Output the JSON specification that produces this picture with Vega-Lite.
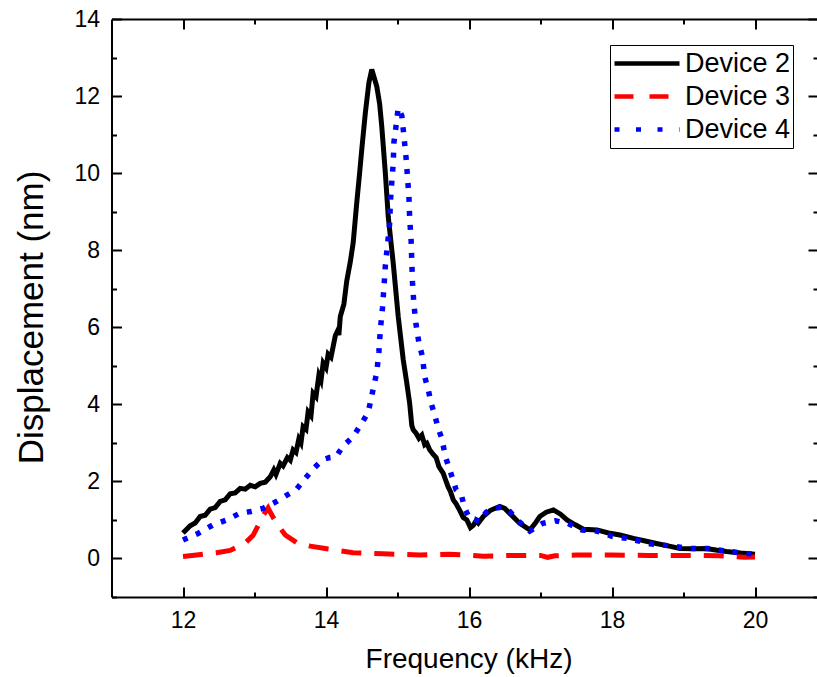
{
  "$schema": "https://vega.github.io/schema/vega-lite/v6.json",
  "width": 705.5,
  "height": 578,
  "autosize": {"type": "none"},
  "padding": {"left": 111.5, "top": 19, "right": 0, "bottom": 80},
  "background": "white",
  "config": {
    "view": {"stroke": null},
    "axis": {
      "grid": false,
      "domainColor": "black",
      "domainWidth": 2,
      "tickColor": "black",
      "tickWidth": 2,
      "labelColor": "black",
      "titleColor": "black",
      "labelFont": "Liberation Sans",
      "titleFont": "Liberation Sans",
      "titleFontWeight": "normal",
      "labelFontSize": 23
    },
    "legend": {"labelFont": "Liberation Sans"}
  },
  "data": {
    "values": [
      {"series": "Device 2", "f": 12.00, "d": 0.66},
      {"series": "Device 2", "f": 12.10, "d": 0.85},
      {"series": "Device 2", "f": 12.17, "d": 0.92},
      {"series": "Device 2", "f": 12.24, "d": 1.09},
      {"series": "Device 2", "f": 12.31, "d": 1.12},
      {"series": "Device 2", "f": 12.38, "d": 1.28},
      {"series": "Device 2", "f": 12.45, "d": 1.32},
      {"series": "Device 2", "f": 12.52, "d": 1.48},
      {"series": "Device 2", "f": 12.59, "d": 1.52},
      {"series": "Device 2", "f": 12.66, "d": 1.68},
      {"series": "Device 2", "f": 12.73, "d": 1.70},
      {"series": "Device 2", "f": 12.80, "d": 1.82},
      {"series": "Device 2", "f": 12.87, "d": 1.80},
      {"series": "Device 2", "f": 12.94, "d": 1.90},
      {"series": "Device 2", "f": 13.01, "d": 1.86},
      {"series": "Device 2", "f": 13.08, "d": 1.95},
      {"series": "Device 2", "f": 13.15, "d": 1.98},
      {"series": "Device 2", "f": 13.22, "d": 2.12},
      {"series": "Device 2", "f": 13.27, "d": 2.30},
      {"series": "Device 2", "f": 13.30, "d": 2.18},
      {"series": "Device 2", "f": 13.36, "d": 2.47},
      {"series": "Device 2", "f": 13.40, "d": 2.40},
      {"series": "Device 2", "f": 13.46, "d": 2.62},
      {"series": "Device 2", "f": 13.50, "d": 2.55},
      {"series": "Device 2", "f": 13.54, "d": 2.82},
      {"series": "Device 2", "f": 13.58, "d": 2.75},
      {"series": "Device 2", "f": 13.62, "d": 3.10},
      {"series": "Device 2", "f": 13.65, "d": 3.00},
      {"series": "Device 2", "f": 13.68, "d": 3.42},
      {"series": "Device 2", "f": 13.72, "d": 3.35},
      {"series": "Device 2", "f": 13.75, "d": 3.80},
      {"series": "Device 2", "f": 13.79, "d": 3.70},
      {"series": "Device 2", "f": 13.82, "d": 4.29},
      {"series": "Device 2", "f": 13.86, "d": 4.20},
      {"series": "Device 2", "f": 13.90, "d": 4.75},
      {"series": "Device 2", "f": 13.93, "d": 4.62},
      {"series": "Device 2", "f": 13.96, "d": 5.07},
      {"series": "Device 2", "f": 14.00, "d": 4.95},
      {"series": "Device 2", "f": 14.03, "d": 5.30},
      {"series": "Device 2", "f": 14.07, "d": 5.22},
      {"series": "Device 2", "f": 14.10, "d": 5.50},
      {"series": "Device 2", "f": 14.13, "d": 5.78},
      {"series": "Device 2", "f": 14.16, "d": 5.90},
      {"series": "Device 2", "f": 14.18, "d": 5.80},
      {"series": "Device 2", "f": 14.20, "d": 6.28},
      {"series": "Device 2", "f": 14.25, "d": 6.60},
      {"series": "Device 2", "f": 14.29, "d": 7.20},
      {"series": "Device 2", "f": 14.34, "d": 7.70},
      {"series": "Device 2", "f": 14.38, "d": 8.19},
      {"series": "Device 2", "f": 14.43, "d": 9.23},
      {"series": "Device 2", "f": 14.47, "d": 10.00},
      {"series": "Device 2", "f": 14.50, "d": 10.61},
      {"series": "Device 2", "f": 14.55, "d": 11.56},
      {"series": "Device 2", "f": 14.60, "d": 12.35},
      {"series": "Device 2", "f": 14.64, "d": 12.69},
      {"series": "Device 2", "f": 14.67, "d": 12.50},
      {"series": "Device 2", "f": 14.71, "d": 12.25},
      {"series": "Device 2", "f": 14.75, "d": 11.80},
      {"series": "Device 2", "f": 14.78, "d": 11.21},
      {"series": "Device 2", "f": 14.83, "d": 10.00},
      {"series": "Device 2", "f": 14.87, "d": 8.88},
      {"series": "Device 2", "f": 14.94, "d": 7.67},
      {"series": "Device 2", "f": 15.01, "d": 6.28},
      {"series": "Device 2", "f": 15.08, "d": 5.16},
      {"series": "Device 2", "f": 15.13, "d": 4.55},
      {"series": "Device 2", "f": 15.17, "d": 4.03},
      {"series": "Device 2", "f": 15.20, "d": 3.45},
      {"series": "Device 2", "f": 15.22, "d": 3.34},
      {"series": "Device 2", "f": 15.26, "d": 3.25},
      {"series": "Device 2", "f": 15.30, "d": 3.12},
      {"series": "Device 2", "f": 15.34, "d": 3.20},
      {"series": "Device 2", "f": 15.38, "d": 2.95},
      {"series": "Device 2", "f": 15.41, "d": 2.99},
      {"series": "Device 2", "f": 15.45, "d": 2.82},
      {"series": "Device 2", "f": 15.50, "d": 2.70},
      {"series": "Device 2", "f": 15.54, "d": 2.62},
      {"series": "Device 2", "f": 15.58, "d": 2.38},
      {"series": "Device 2", "f": 15.64, "d": 2.21},
      {"series": "Device 2", "f": 15.67, "d": 2.05},
      {"series": "Device 2", "f": 15.71, "d": 1.85},
      {"series": "Device 2", "f": 15.74, "d": 1.74},
      {"series": "Device 2", "f": 15.78, "d": 1.52},
      {"series": "Device 2", "f": 15.82, "d": 1.42},
      {"series": "Device 2", "f": 15.87, "d": 1.25},
      {"series": "Device 2", "f": 15.92, "d": 1.06},
      {"series": "Device 2", "f": 15.97, "d": 1.00},
      {"series": "Device 2", "f": 16.02, "d": 0.80},
      {"series": "Device 2", "f": 16.06, "d": 0.86},
      {"series": "Device 2", "f": 16.10, "d": 0.98},
      {"series": "Device 2", "f": 16.13, "d": 0.92},
      {"series": "Device 2", "f": 16.20, "d": 1.09},
      {"series": "Device 2", "f": 16.30, "d": 1.25},
      {"series": "Device 2", "f": 16.43, "d": 1.35},
      {"series": "Device 2", "f": 16.50, "d": 1.30},
      {"series": "Device 2", "f": 16.57, "d": 1.17},
      {"series": "Device 2", "f": 16.71, "d": 0.91},
      {"series": "Device 2", "f": 16.85, "d": 0.74},
      {"series": "Device 2", "f": 16.92, "d": 0.90},
      {"series": "Device 2", "f": 16.99, "d": 1.09},
      {"series": "Device 2", "f": 17.08, "d": 1.20},
      {"series": "Device 2", "f": 17.18, "d": 1.26},
      {"series": "Device 2", "f": 17.28, "d": 1.15},
      {"series": "Device 2", "f": 17.37, "d": 1.00},
      {"series": "Device 2", "f": 17.48, "d": 0.88},
      {"series": "Device 2", "f": 17.60, "d": 0.76},
      {"series": "Device 2", "f": 17.79, "d": 0.74},
      {"series": "Device 2", "f": 17.95, "d": 0.66},
      {"series": "Device 2", "f": 18.11, "d": 0.61},
      {"series": "Device 2", "f": 18.30, "d": 0.52},
      {"series": "Device 2", "f": 18.45, "d": 0.46},
      {"series": "Device 2", "f": 18.62, "d": 0.39},
      {"series": "Device 2", "f": 18.80, "d": 0.32},
      {"series": "Device 2", "f": 18.95, "d": 0.26},
      {"series": "Device 2", "f": 19.15, "d": 0.25},
      {"series": "Device 2", "f": 19.32, "d": 0.26},
      {"series": "Device 2", "f": 19.45, "d": 0.22},
      {"series": "Device 2", "f": 19.60, "d": 0.18},
      {"series": "Device 2", "f": 19.80, "d": 0.14},
      {"series": "Device 2", "f": 20.00, "d": 0.11},

      {"series": "Device 3", "f": 12.00, "d": 0.05},
      {"series": "Device 3", "f": 12.19, "d": 0.09},
      {"series": "Device 3", "f": 12.47, "d": 0.15},
      {"series": "Device 3", "f": 12.66, "d": 0.21},
      {"series": "Device 3", "f": 12.87, "d": 0.40},
      {"series": "Device 3", "f": 12.98, "d": 0.60},
      {"series": "Device 3", "f": 13.05, "d": 0.85},
      {"series": "Device 3", "f": 13.10, "d": 1.06},
      {"series": "Device 3", "f": 13.19, "d": 1.31},
      {"series": "Device 3", "f": 13.25, "d": 1.10},
      {"series": "Device 3", "f": 13.31, "d": 0.91},
      {"series": "Device 3", "f": 13.43, "d": 0.61},
      {"series": "Device 3", "f": 13.59, "d": 0.41},
      {"series": "Device 3", "f": 13.78, "d": 0.32},
      {"series": "Device 3", "f": 14.01, "d": 0.25},
      {"series": "Device 3", "f": 14.38, "d": 0.15},
      {"series": "Device 3", "f": 14.80, "d": 0.12},
      {"series": "Device 3", "f": 15.31, "d": 0.09},
      {"series": "Device 3", "f": 15.73, "d": 0.11},
      {"series": "Device 3", "f": 16.20, "d": 0.06},
      {"series": "Device 3", "f": 16.60, "d": 0.08},
      {"series": "Device 3", "f": 17.00, "d": 0.08},
      {"series": "Device 3", "f": 17.10, "d": 0.03},
      {"series": "Device 3", "f": 17.20, "d": 0.07},
      {"series": "Device 3", "f": 17.50, "d": 0.09},
      {"series": "Device 3", "f": 18.00, "d": 0.09},
      {"series": "Device 3", "f": 18.50, "d": 0.08},
      {"series": "Device 3", "f": 19.00, "d": 0.08},
      {"series": "Device 3", "f": 19.50, "d": 0.07},
      {"series": "Device 3", "f": 19.85, "d": 0.03},
      {"series": "Device 3", "f": 20.00, "d": 0.04},

      {"series": "Device 4", "f": 12.00, "d": 0.48},
      {"series": "Device 4", "f": 12.21, "d": 0.65},
      {"series": "Device 4", "f": 12.42, "d": 0.87},
      {"series": "Device 4", "f": 12.61, "d": 1.00},
      {"series": "Device 4", "f": 12.79, "d": 1.17},
      {"series": "Device 4", "f": 12.95, "d": 1.22},
      {"series": "Device 4", "f": 13.12, "d": 1.30},
      {"series": "Device 4", "f": 13.29, "d": 1.46},
      {"series": "Device 4", "f": 13.43, "d": 1.62},
      {"series": "Device 4", "f": 13.58, "d": 1.78},
      {"series": "Device 4", "f": 13.71, "d": 2.08},
      {"series": "Device 4", "f": 13.84, "d": 2.36},
      {"series": "Device 4", "f": 13.95, "d": 2.56},
      {"series": "Device 4", "f": 14.05, "d": 2.62},
      {"series": "Device 4", "f": 14.14, "d": 2.64},
      {"series": "Device 4", "f": 14.24, "d": 2.92},
      {"series": "Device 4", "f": 14.38, "d": 3.16},
      {"series": "Device 4", "f": 14.51, "d": 3.54},
      {"series": "Device 4", "f": 14.59, "d": 3.79},
      {"series": "Device 4", "f": 14.65, "d": 4.31},
      {"series": "Device 4", "f": 14.71, "d": 4.83},
      {"series": "Device 4", "f": 14.74, "d": 5.37},
      {"series": "Device 4", "f": 14.76, "d": 5.94},
      {"series": "Device 4", "f": 14.79, "d": 6.50},
      {"series": "Device 4", "f": 14.81, "d": 7.03},
      {"series": "Device 4", "f": 14.83, "d": 7.60},
      {"series": "Device 4", "f": 14.86, "d": 8.14},
      {"series": "Device 4", "f": 14.89, "d": 8.69},
      {"series": "Device 4", "f": 14.90, "d": 9.23},
      {"series": "Device 4", "f": 14.92, "d": 9.77},
      {"series": "Device 4", "f": 14.94, "d": 10.24},
      {"series": "Device 4", "f": 14.95, "d": 10.80},
      {"series": "Device 4", "f": 14.98, "d": 11.23},
      {"series": "Device 4", "f": 15.01, "d": 11.69},
      {"series": "Device 4", "f": 15.06, "d": 11.49},
      {"series": "Device 4", "f": 15.09, "d": 10.96},
      {"series": "Device 4", "f": 15.12, "d": 10.39},
      {"series": "Device 4", "f": 15.14, "d": 9.90},
      {"series": "Device 4", "f": 15.16, "d": 9.38},
      {"series": "Device 4", "f": 15.17, "d": 8.83},
      {"series": "Device 4", "f": 15.19, "d": 8.27},
      {"series": "Device 4", "f": 15.20, "d": 7.71},
      {"series": "Device 4", "f": 15.21, "d": 7.15},
      {"series": "Device 4", "f": 15.23, "d": 6.58},
      {"series": "Device 4", "f": 15.26, "d": 6.06},
      {"series": "Device 4", "f": 15.30, "d": 5.59},
      {"series": "Device 4", "f": 15.35, "d": 5.23},
      {"series": "Device 4", "f": 15.38, "d": 4.72},
      {"series": "Device 4", "f": 15.43, "d": 4.38},
      {"series": "Device 4", "f": 15.47, "d": 4.03},
      {"series": "Device 4", "f": 15.52, "d": 3.73},
      {"series": "Device 4", "f": 15.57, "d": 3.37},
      {"series": "Device 4", "f": 15.62, "d": 3.11},
      {"series": "Device 4", "f": 15.67, "d": 2.64},
      {"series": "Device 4", "f": 15.74, "d": 2.25},
      {"series": "Device 4", "f": 15.82, "d": 1.78},
      {"series": "Device 4", "f": 15.89, "d": 1.67},
      {"series": "Device 4", "f": 15.94, "d": 1.30},
      {"series": "Device 4", "f": 16.01, "d": 1.03},
      {"series": "Device 4", "f": 16.08, "d": 1.02},
      {"series": "Device 4", "f": 16.15, "d": 0.96},
      {"series": "Device 4", "f": 16.24, "d": 1.20},
      {"series": "Device 4", "f": 16.33, "d": 1.30},
      {"series": "Device 4", "f": 16.46, "d": 1.33},
      {"series": "Device 4", "f": 16.57, "d": 1.22},
      {"series": "Device 4", "f": 16.70, "d": 0.96},
      {"series": "Device 4", "f": 16.85, "d": 0.71},
      {"series": "Device 4", "f": 17.03, "d": 0.91},
      {"series": "Device 4", "f": 17.21, "d": 0.98},
      {"series": "Device 4", "f": 17.38, "d": 0.91},
      {"series": "Device 4", "f": 17.58, "d": 0.74},
      {"series": "Device 4", "f": 17.79, "d": 0.71},
      {"series": "Device 4", "f": 18.01, "d": 0.57},
      {"series": "Device 4", "f": 18.25, "d": 0.51},
      {"series": "Device 4", "f": 18.53, "d": 0.38},
      {"series": "Device 4", "f": 18.80, "d": 0.33},
      {"series": "Device 4", "f": 19.07, "d": 0.26},
      {"series": "Device 4", "f": 19.33, "d": 0.26},
      {"series": "Device 4", "f": 19.60, "d": 0.19},
      {"series": "Device 4", "f": 19.89, "d": 0.13},
      {"series": "Device 4", "f": 20.00, "d": 0.12}
    ]
  },
  "layer": [
    {
      "transform": [{"filter": "datum.series === 'Device 2'"}],
      "mark": {"type": "line", "strokeWidth": 5, "clip": true},
      "encoding": {
        "x": {
          "field": "f", "type": "quantitative",
          "scale": {"domain": [11, 20.867], "nice": false, "zero": false},
          "axis": {
            "orient": "bottom",
            "values": [12, 14, 16, 18, 20],
            "tickSize": -10,
            "labelPadding": 22,
            "title": "Frequency (kHz)",
            "titleFontSize": 28,
            "titleX": 357,
            "titleY": 62,
            "titleBaseline": "middle",
            "titleAlign": "center",
            "encode": {"ticks": {"update": {"y2": {"value": -10}}}}
          }
        },
        "y": {
          "field": "d", "type": "quantitative",
          "scale": {"domain": [-1, 14], "nice": false, "zero": false},
          "axis": {
            "orient": "left",
            "values": [0, 2, 4, 6, 8, 10, 12, 14],
            "tickSize": -10,
            "labelPadding": 22,
            "title": "Displacement (nm)",
            "titleFontSize": 35,
            "titleX": -80,
            "titleY": 298,
            "titleAngle": 270,
            "titleBaseline": "middle",
            "titleAlign": "center",
            "encode": {"ticks": {"update": {"x2": {"value": 10}}}}
          }
        },
        "color": {
          "field": "series", "type": "nominal",
          "scale": {"domain": ["Device 2", "Device 3", "Device 4"], "range": ["black", "red", "blue"]},
          "legend": {
            "title": null,
            "orient": "none",
            "legendX": 498.5,
            "legendY": 26,
            "strokeColor": "black",
            "padding": 2,
            "symbolType": "stroke",
            "symbolSize": 4225,
            "symbolStrokeWidth": 4.5,
            "clipHeight": 33,
            "labelFontSize": 27,
            "labelColor": "black",
            "labelOffset": 3,
            "rowPadding": 0,
            "fillColor": "white",
            "encode": {
              "symbols": {
                "update": {
                  "strokeDash": {"signal": "datum.label === 'Device 3' ? [19, 16] : datum.label === 'Device 4' ? [5, 16.5] : [1, 0]"}
                }
              }
            }
          }
        }
      }
    },
    {
      "transform": [{"filter": "datum.series === 'Device 3'"}],
      "mark": {"type": "line", "strokeWidth": 5, "strokeDash": [20, 13], "clip": true},
      "encoding": {
        "x": {"field": "f", "type": "quantitative", "axis": null},
        "y": {"field": "d", "type": "quantitative", "axis": null},
        "color": {"field": "series", "type": "nominal"}
      }
    },
    {
      "transform": [{"filter": "datum.series === 'Device 4'"}],
      "mark": {"type": "line", "strokeWidth": 5.5, "strokeDash": [5, 9], "clip": true},
      "encoding": {
        "x": {"field": "f", "type": "quantitative", "axis": null},
        "y": {"field": "d", "type": "quantitative", "axis": null},
        "color": {"field": "series", "type": "nominal"}
      }
    },
    {
      "mark": {"type": "line", "opacity": 0},
      "encoding": {
        "x": {
          "field": "f", "type": "quantitative",
          "axis": {"orient": "bottom", "values": [13, 15, 17, 19], "tickSize": -5, "labels": false, "domain": false, "title": null,
                   "encode": {"ticks": {"update": {"y2": {"value": -5}}}}}
        },
        "y": {
          "field": "d", "type": "quantitative",
          "axis": {"orient": "left", "values": [-1, 1, 3, 5, 7, 9, 11, 13], "tickSize": -5, "labels": false, "domain": false, "title": null,
                   "encode": {"ticks": {"update": {"x2": {"value": 5}}}}}
        }
      }
    },
    {
      "mark": {"type": "line", "opacity": 0},
      "encoding": {
        "x": {
          "field": "f", "type": "quantitative",
          "axis": {"orient": "top", "values": [12, 14, 16, 18, 20], "tickSize": -10, "labels": false, "domain": true, "title": null,
                   "encode": {"ticks": {"update": {"y2": {"value": 10}}}}}
        },
        "y": {
          "field": "d", "type": "quantitative",
          "axis": {"orient": "right", "values": [0, 2, 4, 6, 8, 10, 12, 14], "tickSize": -9, "labels": false, "domain": false, "title": null,
                   "encode": {"ticks": {"update": {"x2": {"value": -9}}}}}
        }
      }
    },
    {
      "mark": {"type": "line", "opacity": 0},
      "encoding": {
        "x": {
          "field": "f", "type": "quantitative",
          "axis": {"orient": "top", "values": [13, 15, 17, 19], "tickSize": -5, "labels": false, "domain": false, "title": null,
                   "encode": {"ticks": {"update": {"y2": {"value": 5}}}}}
        },
        "y": {
          "field": "d", "type": "quantitative",
          "axis": {"orient": "right", "values": [-1, 1, 3, 5, 7, 9, 11, 13], "tickSize": -4, "labels": false, "domain": false, "title": null,
                   "encode": {"ticks": {"update": {"x2": {"value": -4}}}}}
        }
      }
    }
  ],
  "resolve": {"axis": {"x": "independent", "y": "independent"}}
}
